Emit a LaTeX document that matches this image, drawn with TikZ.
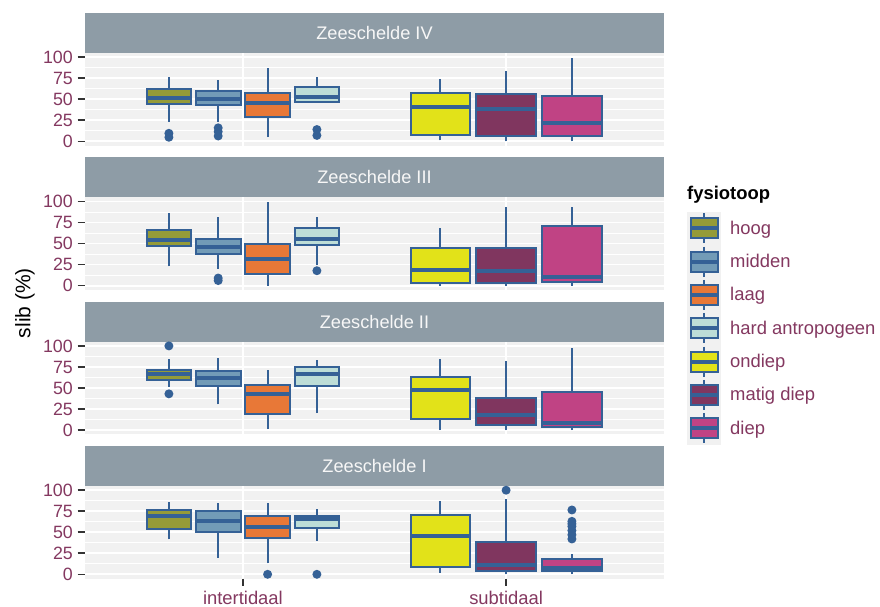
\documentclass[tikz,border=0pt]{standalone}
\usepackage{fontspec}
\setmainfont{Liberation Sans}
\definecolor{txtc}{HTML}{843860}
\definecolor{bluec}{HTML}{356196}
\definecolor{stripc}{HTML}{8E9CA6}
\definecolor{panelc}{HTML}{F1F1F1}
\definecolor{hoogc}{HTML}{959B38}
\definecolor{middenc}{HTML}{729BB7}
\definecolor{laagc}{HTML}{E87837}
\definecolor{hardc}{HTML}{BDDDD7}
\definecolor{ondiepc}{HTML}{E2E219}
\definecolor{matigc}{HTML}{80365F}
\definecolor{diepc}{HTML}{C04384}
\tikzset{
  gmaj/.style={white, line width=1.8pt},
  gmin/.style={white, line width=0.9pt},
  whisk/.style={bluec, line width=2pt},
  bxl/.style={draw=bluec, line width=2pt},
  medl/.style={bluec, line width=4pt},
  ptc/.style={fill=bluec},
  tickl/.style={black!80, line width=1.6pt},
  ytl/.style={anchor=base east, text=txtc, inner sep=0pt, font=\fontsize{17.8}{20}\selectfont},
  xtl/.style={anchor=base, text=txtc, inner sep=0pt, font=\fontsize{18.4}{21}\selectfont},
  striptxt/.style={anchor=base, text=white!97!black, inner sep=0pt, font=\fontsize{18.2}{21}\selectfont},
  legtxt/.style={anchor=base west, text=txtc, inner sep=0pt, font=\fontsize{18.4}{21}\selectfont},
}
% panel frame: #1 strip top, #2 label
\newcommand\mypanel[2]{%
  \fill[stripc] (85,#1) rectangle (664,#1+40);
  \node[striptxt] at (374.5,#1+26.6) {#2};
  \fill[panelc] (85,#1+40) rectangle (664,#1+132.5);
}
% boxplot: x, half width, lw, q1, med, q3, uw, colour
\newcommand\bpl[8]{%
  \draw[whisk] (#1,#3) -- (#1,#4) (#1,#6) -- (#1,#7);
  \filldraw[fill=#8, bxl] (#1-#2,#4) rectangle (#1+#2,#6);
  \draw[medl] (#1-#2,#5) -- (#1+#2,#5);
}
\newcommand\pts[2]{\foreach \o in {#2} \fill[ptc] (#1,\o) circle (4.5pt);}
\newcommand\grids{%
  \foreach \v in {12.5,37.5,62.5,87.5} \draw[gmin] (85,\v) -- (664,\v);
  \foreach \v in {0,25,50,75,100} {\draw[gmaj] (85,\v) -- (664,\v);
    \draw[tickl] (77.5,\v) -- (85,\v);
    \node[ytl] at (73,\v) [yshift=-6.3pt] {\v};}
  \draw[gmaj] (242.9,-5) -- (242.9,105);
  \draw[gmaj] (506.1,-5) -- (506.1,105);
}
\begin{document}
\begin{tikzpicture}[x=1pt,y=-1pt]
\useasboundingbox (0,0) rectangle (880,607);
\fill[white] (0,0) rectangle (880,607);

% ---------------- Zeeschelde IV
\mypanel{13}{Zeeschelde IV}
\begin{scope}[yshift=-141.3pt, y=0.8409pt]
  \grids
  \bpl{168.9}{22.4}{23}{44}{51}{62}{76}{hoogc} \pts{168.9}{9.5,4.8}
  \bpl{218.2}{22.4}{23}{43}{50}{60}{73}{middenc} \pts{218.2}{16,11.5,6.3}
  \bpl{267.6}{22.4}{5}{28.5}{45}{58}{87}{laagc}
  \bpl{316.9}{22.4}{47}{47}{53}{64}{77}{hardc} \pts{316.9}{14,7}
  \bpl{440.3}{29.8}{1}{7}{41}{57}{74}{ondiepc}
  \bpl{506.1}{29.8}{0}{6}{39}{56}{84}{matigc}
  \bpl{571.9}{29.8}{0}{6}{22}{54}{99.5}{diepc}
\end{scope}

% ---------------- Zeeschelde III
\mypanel{157.33}{Zeeschelde III}
\begin{scope}[yshift=-285.6pt, y=0.8409pt]
  \grids
  \bpl{168.9}{22.4}{23}{47.5}{54}{66}{86}{hoogc}
  \bpl{218.2}{22.4}{20}{37}{46}{56}{82}{middenc} \pts{218.2}{9,6}
  \bpl{267.6}{22.4}{0}{14}{32}{49}{99}{laagc}
  \bpl{316.9}{22.4}{24.5}{48}{55}{68}{82}{hardc} \pts{316.9}{17.7}
  \bpl{440.3}{29.8}{0}{3}{19}{45}{68}{ondiepc}
  \bpl{506.1}{29.8}{0}{3}{17}{45}{94}{matigc}
  \bpl{571.9}{29.8}{0}{4}{10}{71}{94}{diepc}
\end{scope}

% ---------------- Zeeschelde II
\mypanel{301.67}{Zeeschelde II}
\begin{scope}[yshift=-430pt, y=0.8409pt]
  \grids
  \bpl{168.9}{22.4}{51.5}{60}{67}{71}{84.4}{hoogc} \pts{168.9}{100,43}
  \bpl{218.2}{22.4}{30.5}{52.3}{62}{70.5}{85.3}{middenc}
  \bpl{267.6}{22.4}{1}{19}{43}{53}{71}{laagc}
  \bpl{316.9}{22.4}{20}{52}{67}{75}{83}{hardc}
  \bpl{440.3}{29.8}{0}{13}{47.6}{62.7}{85}{ondiepc}
  \bpl{506.1}{29.8}{0}{6}{17.5}{37.7}{82}{matigc}
  \bpl{571.9}{29.8}{0}{3.2}{8.3}{45.5}{97}{diepc}
\end{scope}

% ---------------- Zeeschelde I
\mypanel{446}{Zeeschelde I}
\begin{scope}[yshift=-574.3pt, y=0.8409pt]
  \grids
  \bpl{168.9}{22.4}{41.6}{54}{69}{76.5}{85.6}{hoogc}
  \bpl{218.2}{22.4}{19.7}{50.3}{63.6}{75.3}{84.4}{middenc}
  \bpl{267.6}{22.4}{13}{42.8}{56.6}{69.3}{84.4}{laagc} \pts{267.6}{0}
  \bpl{316.9}{22.4}{40}{54.7}{65.4}{69.3}{77.6}{hardc} \pts{316.9}{0}
  \bpl{440.3}{29.8}{2}{9}{46}{70}{87}{ondiepc}
  \bpl{506.1}{29.8}{0}{4}{11}{38.8}{89.5}{matigc} \pts{506.1}{100}
  \bpl{571.9}{29.8}{0}{4.5}{7.5}{17.8}{23.8}{diepc} \pts{571.9}{76.5,63,60,57,52,47,42}
\end{scope}

% x axis
\draw[tickl] (242.9,578.5) -- (242.9,585.5);
\draw[tickl] (506.1,578.5) -- (506.1,585.5);
\node[xtl] at (242.9,604.5) {intertidaal};
\node[xtl] at (506.1,604.5) {subtidaal};

% y title
\node[rotate=90, inner sep=0pt, font=\fontsize{21}{24}\selectfont] at (25,303) {slib (\%)};

% legend
\node[anchor=base west, inner sep=0pt, font=\fontsize{18.4}{21}\selectfont\bfseries] at (687,199.3) {fysiotoop};
\fill[panelc] (687,211.7) rectangle (721,444.7);
\foreach \c/\lab [count=\i from 0] in {hoogc/hoog, middenc/midden, laagc/laag, hardc/hard antropogeen, ondiepc/ondiep, matigc/matig diep, diepc/diep} {
  \pgfmathsetmacro\yc{228.3+33.3*\i}
  \draw[whisk] (704,\yc-15) -- (704,\yc+15);
  \filldraw[fill=\c, bxl] (690.5,\yc-10) rectangle (717.5,\yc+10);
  \draw[medl] (690.5,\yc) -- (717.5,\yc);
  \node[legtxt] at (730,\yc+6) {\lab};
}
\end{tikzpicture}
\end{document}
